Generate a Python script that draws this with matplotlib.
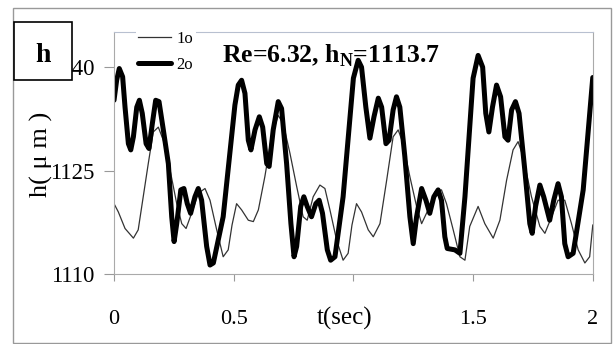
import matplotlib.pyplot as plt
from matplotlib.patches import Rectangle

# 時間と膜厚のデータ
t_2o = [0.000, 0.011, 0.022, 0.036, 0.046, 0.060, 0.070, 0.081, 0.095, 0.106,
        0.118, 0.134, 0.146, 0.160, 0.174, 0.188, 0.206, 0.227, 0.241, 0.251,
        0.262, 0.279, 0.292, 0.306, 0.320, 0.338, 0.352, 0.366, 0.387, 0.401,
        0.415, 0.456, 0.505, 0.519, 0.533, 0.547, 0.561, 0.572, 0.589, 0.607,
        0.621, 0.638, 0.648, 0.665, 0.686, 0.700, 0.721, 0.739, 0.752, 0.763,
        0.780, 0.793, 0.807, 0.825, 0.843, 0.857, 0.871, 0.891, 0.905, 0.923,
        0.957, 1.000, 1.020, 1.034, 1.052, 1.069, 1.086, 1.104, 1.118, 1.136,
        1.149, 1.166, 1.180, 1.194, 1.215, 1.236, 1.250, 1.264, 1.285, 1.303,
        1.319, 1.336, 1.354, 1.368, 1.382, 1.392, 1.424, 1.445, 1.466, 1.500,
        1.521, 1.540, 1.553, 1.566, 1.581, 1.598, 1.615, 1.633, 1.646, 1.661,
        1.677, 1.692, 1.716, 1.737, 1.747, 1.761, 1.779, 1.795, 1.820, 1.837,
        1.855, 1.869, 1.883, 1.897, 1.918, 1.960, 2.000]
h_2o = [1135.2, 1138.1, 1139.8, 1138.6, 1134.2, 1128.9, 1128.0, 1129.9, 1134.2, 1135.2,
        1133.3, 1128.9, 1128.2, 1131.8, 1135.2, 1135.0, 1130.9, 1126.0, 1118.3, 1114.7,
        1117.3, 1122.2, 1122.4, 1120.2, 1118.8, 1121.2, 1122.4, 1120.7, 1114.0, 1111.3,
        1111.6, 1118.3, 1134.5, 1137.4, 1138.1, 1136.2, 1129.4, 1128.0, 1130.9, 1132.8,
        1131.3, 1126.0, 1125.6, 1130.9, 1135.0, 1134.0, 1126.0, 1117.3, 1112.5, 1114.0,
        1119.8, 1121.2, 1119.8, 1118.3, 1120.2, 1120.7, 1118.8, 1113.5, 1112.0, 1112.5,
        1121.2, 1138.4, 1141.0, 1140.0, 1134.2, 1129.7, 1132.8, 1135.5, 1134.2, 1128.9,
        1129.4, 1133.8, 1135.7, 1134.2, 1127.0, 1118.3, 1114.4, 1118.3, 1122.4, 1120.7,
        1118.8, 1121.2, 1122.2, 1120.7, 1115.4, 1113.7, 1113.5, 1113.0, 1121.2, 1138.4,
        1141.7, 1140.0, 1133.3, 1130.6, 1134.2, 1137.4, 1135.7, 1129.9, 1129.4, 1133.8,
        1135.0, 1133.3, 1125.1, 1117.3, 1115.9, 1119.8, 1122.9, 1121.2, 1117.8, 1120.7,
        1123.1, 1121.2, 1114.4, 1112.5, 1113.0, 1122.2, 1138.5]

t_1o = [0.000, 0.018, 0.046, 0.081, 0.101, 0.122, 0.143, 0.164, 0.185, 0.206,
        0.234, 0.262, 0.283, 0.301, 0.324, 0.352, 0.380, 0.401, 0.429, 0.456,
        0.477, 0.493, 0.512, 0.533, 0.561, 0.582, 0.603, 0.630, 0.658, 0.686,
        0.707, 0.735, 0.763, 0.790, 0.807, 0.832, 0.860, 0.881, 0.902, 0.930,
        0.957, 0.978, 0.994, 1.013, 1.034, 1.062, 1.083, 1.111, 1.139, 1.166,
        1.187, 1.208, 1.236, 1.264, 1.285, 1.312, 1.340, 1.368, 1.389, 1.417,
        1.445, 1.466, 1.486, 1.521, 1.549, 1.584, 1.612, 1.640, 1.667, 1.688,
        1.709, 1.744, 1.779, 1.800, 1.828, 1.855, 1.883, 1.911, 1.939, 1.967,
        1.987, 2.000]
h_1o = [1120.2, 1119.0, 1116.6, 1115.2, 1116.4, 1121.2, 1126.0, 1130.6, 1131.3, 1129.4,
        1125.1, 1120.2, 1117.3, 1116.6, 1118.8, 1121.7, 1122.4, 1120.7, 1116.4, 1112.5,
        1113.5, 1117.1, 1120.2, 1119.3, 1117.8, 1117.6, 1119.3, 1124.1, 1129.9, 1133.0,
        1131.8, 1127.5, 1122.7, 1118.3, 1117.8, 1121.2, 1122.9, 1122.4, 1119.3, 1114.9,
        1112.0, 1113.0, 1117.1, 1120.2, 1119.0, 1116.4, 1115.4, 1117.3, 1123.6, 1129.9,
        1130.9, 1128.9, 1124.1, 1119.8, 1117.3, 1119.3, 1121.9, 1122.2, 1120.2, 1116.4,
        1112.5, 1112.0, 1116.9, 1119.8, 1117.3, 1115.2, 1117.8, 1123.6, 1128.0, 1129.2,
        1127.0, 1121.2, 1116.9, 1115.9, 1118.3, 1120.7, 1120.7, 1117.3, 1113.5, 1111.6,
        1112.5, 1117.1]

x_ticks = [0, 0.5, 1, 1.5, 2]
x_labels = ["0", "0.5", "", "1.5", "2"]
y_ticks = [1110, 1125, 1140]
y_labels = ["1110", "1125", "1140"]

plt.rcParams['font.family'] = ['Liberation Serif', 'DejaVu Serif']
plt.rcParams['mathtext.fontset'] = 'custom'
plt.rcParams['mathtext.rm'] = 'Liberation Serif'
plt.rcParams['mathtext.bf'] = 'Liberation Serif:bold'

fig = plt.figure(figsize=(6.13, 3.44), dpi=100)
ax = fig.add_axes([0.186, 0.2035, 0.781, 0.7035])

ax.plot(t_1o, h_1o, color="#333333", lw=0.9, label="1o")
ax.plot(t_2o, h_2o, color="black", lw=3.6, solid_joinstyle="round",
        solid_capstyle="round", label="2o")

ax.set_xlim(0, 2)
ax.set_ylim(1110, 1145.1)
ax.set_xticks(x_ticks)
ax.set_xticklabels(x_labels, fontsize=16)
ax.set_yticks(y_ticks)
ax.set_yticklabels(y_labels, fontsize=16.5)
ax.tick_params(axis="x", length=5, pad=21, color="#999999")
ax.tick_params(axis="y", length=7, pad=7, color="#999999")
for s in ax.spines.values():
    s.set_color("#aaaaaa")
    s.set_linewidth(0.8)
ax.spines["top"].set_color("#b8c0d0")

ax.text(0.965, -0.183, "t(sec)", transform=ax.get_xaxis_transform(),
        ha="center", va="center", fontsize=18)
fig.text(0.068, 0.552, "h( μ m )", rotation=90, ha="center", va="center", fontsize=19)

ax.text(0.225, 0.9, r"Re=6.32, h$_\mathbf{N}$=1113.7", transform=ax.transAxes,
        fontsize=18.5, fontweight="bold", ha="left", va="center")

leg = ax.legend(loc="upper left", bbox_to_anchor=(0.045, 1.015), fontsize=12,
                frameon=True, facecolor="white", edgecolor="none", framealpha=1,
                borderpad=0.15, borderaxespad=0, labelspacing=0.6,
                handlelength=2.0, handletextpad=0.3, fancybox=False)

# 外枠と「h」の箱
fig.patches.append(Rectangle((13 / 613, 1 / 344), 598 / 613, 335 / 344,
                             transform=fig.transFigure, fill=False,
                             edgecolor="#999999", lw=1.0))
fig.patches.append(Rectangle((14 / 613, 264 / 344), 58 / 613, 58 / 344,
                             transform=fig.transFigure, facecolor="white",
                             edgecolor="black", lw=1.2, zorder=5))
fig.text(43 / 613, 1 - 55 / 344, "h", fontsize=20, fontweight="bold",
         ha="center", va="center", zorder=6)

fig.savefig("out.png", dpi=100)
